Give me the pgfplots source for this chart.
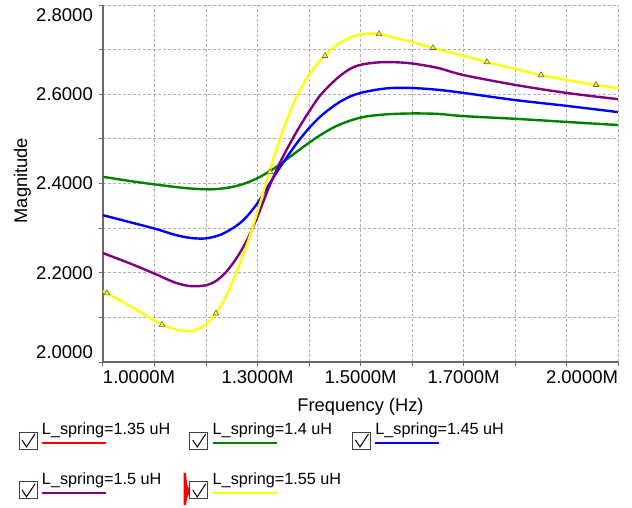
\documentclass[border=0pt]{standalone}
\usepackage{fontspec}
\setmainfont{Liberation Sans}
\usepackage{pgfplots}
\pgfplotsset{compat=1.18}

\definecolor{cgreen}{RGB}{0,128,0}
\definecolor{cblue}{RGB}{0,0,255}
\definecolor{cpurple}{RGB}{128,0,128}
\definecolor{cyellow}{RGB}{255,255,0}
\definecolor{cred}{RGB}{255,0,0}
\definecolor{axgray}{RGB}{105,105,105}
\definecolor{gridgray}{RGB}{175,175,175}

\pgfplotsset{
  cbox/.style={legend image code/.code={
    \draw[black!75, line width=0.8pt, fill=white] (0pt,-14pt) rectangle (18pt,3pt);
    \draw[black, line width=1pt] (3pt,-5pt) -- (7.5pt,-12pt) -- (16pt,1pt);
    \draw[overlay, line width=2.4pt, ##1] (23pt,-8pt) -- (87pt,-8pt);
  }},
  cboxred/.style={legend image code/.code={
    \fill[overlay, cred] (-5pt,12pt) -- (-5pt,-20pt) -- (-3.8pt,-13pt) -- (-0.8pt,-6pt) -- (-3.8pt,0pt) -- cycle;
    \draw[black!75, line width=0.8pt, fill=white] (0pt,-14pt) rectangle (18pt,3pt);
    \draw[black, line width=1pt] (3pt,-5pt) -- (7.5pt,-12pt) -- (16pt,1pt);
    \draw[overlay, line width=2.4pt, ##1] (23pt,-8pt) -- (87pt,-8pt);
  }},
}

\begin{document}
\begin{tikzpicture}
\useasboundingbox (0,0) rectangle (632pt,507pt);
\begin{axis}[
  at={(103pt,145pt)}, anchor=south west,
  scale only axis, width=515pt, height=357pt,
  xmin=1, xmax=2, ymin=2, ymax=2.8,
  axis x line*=bottom, axis y line*=left,
  axis line style={draw=axgray, line width=1.2pt},
  xtick={1,1.1,1.2,1.3,1.4,1.5,1.6,1.7,1.8,1.9,2},
  xticklabels={{\makebox[0pt][l]{1.0000M}},,,{1.3000M},,{1.5000M},,{1.7000M},,,{\makebox[0pt][r]{2.0000M}}},
  ytick={2,2.1,2.2,2.3,2.4,2.5,2.6,2.7,2.8},
  yticklabels={{\raisebox{10pt}[\height][\depth]{2.0000}},,{2.2000},,{2.4000},,{2.6000},,{\raisebox{-10pt}[\height][\depth]{2.8000}}},
  tick align=outside, major tick length=4pt,
  tick style={draw=axgray, line width=1pt},
  tick label style={font=\fontsize{18.5}{22}\selectfont, inner sep=0pt},
  xticklabel style={yshift=-4pt},
  yticklabel style={xshift=-6pt},
  /pgf/number format/assume math mode=true,
  grid=major,
  major grid style={draw=gridgray, line width=0.8pt, dash pattern=on 3pt off 2pt},
  xlabel={Frequency (Hz)},
  ylabel={Magnitude},
  label style={font=\fontsize{18.3}{22}\selectfont, inner sep=0pt},
  xlabel style={at={(axis description cs:0.5,0)}, anchor=north, yshift=-36pt},
  ylabel style={at={(axis description cs:-0.1398,0.508)}, anchor=south},
  legend columns=3,
  legend cell align=left,
  legend style={
    at={(axis description cs:0,0)}, anchor=north west,
    xshift=-84.4pt, yshift=-61.2pt,
    draw=none, fill=none, inner sep=0pt, outer sep=0pt,
    font=\fontsize{16.2}{19}\selectfont,
    cells={anchor=base west},
    nodes={inner sep=0pt, text depth=0pt},
    row sep=23.8pt,
    /tikz/every odd column/.append style={column sep=4.6pt},
    /tikz/column 2/.append style={column sep=19pt},
    /tikz/column 4/.append style={column sep=11pt},
  },
  cbox,
]

\addlegendimage{cred, line width=2.4pt}
\addlegendentry{L\_spring=1.35 uH}

\addplot[cgreen, line width=2.4pt, smooth] coordinates {
(1.00,2.415) (1.05,2.406) (1.10,2.398) (1.15,2.391) (1.18,2.388) (1.21,2.387)
(1.24,2.390) (1.27,2.398) (1.30,2.412) (1.33,2.432) (1.36,2.457) (1.39,2.483)
(1.42,2.507) (1.45,2.527) (1.48,2.541) (1.51,2.550) (1.55,2.555) (1.60,2.557)
(1.65,2.556) (1.70,2.551) (1.80,2.545) (1.90,2.538) (2.00,2.531)
};
\addlegendentry{L\_spring=1.4 uH}

\addplot[cblue, line width=2.4pt, smooth] coordinates {
(1.00,2.329) (1.05,2.314) (1.10,2.299) (1.14,2.285) (1.17,2.278) (1.20,2.277)
(1.23,2.286) (1.26,2.306) (1.28,2.327) (1.30,2.356) (1.32,2.393) (1.34,2.430)
(1.36,2.464) (1.38,2.496) (1.40,2.524) (1.42,2.548) (1.44,2.567) (1.46,2.583)
(1.48,2.595) (1.50,2.603) (1.53,2.610) (1.56,2.614) (1.60,2.614) (1.65,2.610)
(1.70,2.603) (1.80,2.587) (1.90,2.574) (2.00,2.560)
};
\addlegendentry{L\_spring=1.45 uH}

\addplot[cpurple, line width=2.4pt, smooth] coordinates {
(1.00,2.244) (1.05,2.222) (1.10,2.198) (1.14,2.178) (1.17,2.170) (1.20,2.172)
(1.22,2.182) (1.24,2.203) (1.26,2.234) (1.28,2.274) (1.30,2.326) (1.32,2.385)
(1.34,2.438) (1.36,2.483) (1.38,2.524) (1.40,2.561) (1.42,2.595) (1.44,2.620)
(1.46,2.641) (1.48,2.657) (1.50,2.666) (1.53,2.671) (1.56,2.672) (1.60,2.669)
(1.65,2.659) (1.70,2.643) (1.80,2.621) (1.90,2.603) (2.00,2.589)
};
\addlegendentry{L\_spring=1.5 uH}

\addplot[cyellow, line width=2.4pt, smooth, cboxred] coordinates {
(1.00,2.159) (1.05,2.127) (1.10,2.093) (1.13,2.077) (1.16,2.069) (1.18,2.072)
(1.20,2.084) (1.22,2.110) (1.24,2.150) (1.26,2.204) (1.28,2.265) (1.30,2.337)
(1.32,2.414) (1.34,2.488) (1.36,2.552) (1.38,2.604) (1.40,2.643) (1.42,2.673)
(1.44,2.697) (1.46,2.715) (1.48,2.727) (1.50,2.734) (1.52,2.736) (1.54,2.734)
(1.60,2.717) (1.64,2.704) (1.70,2.686) (1.75,2.671) (1.85,2.643) (1.95,2.622)
(2.00,2.614)
};
\addlegendentry{L\_spring=1.55 uH}

\addplot[forget plot, only marks, mark=triangle*, mark size=3.3pt,
  mark options={fill=cyellow, draw=black!60, line width=0.6pt}] coordinates {
(1.0078,2.154) (1.1146,2.083) (1.2194,2.109) (1.3243,2.426) (1.4311,2.686)
(1.5359,2.735) (1.6408,2.704) (1.7456,2.672) (1.8505,2.643) (1.9573,2.621)
};

\end{axis}
\end{tikzpicture}
\end{document}
